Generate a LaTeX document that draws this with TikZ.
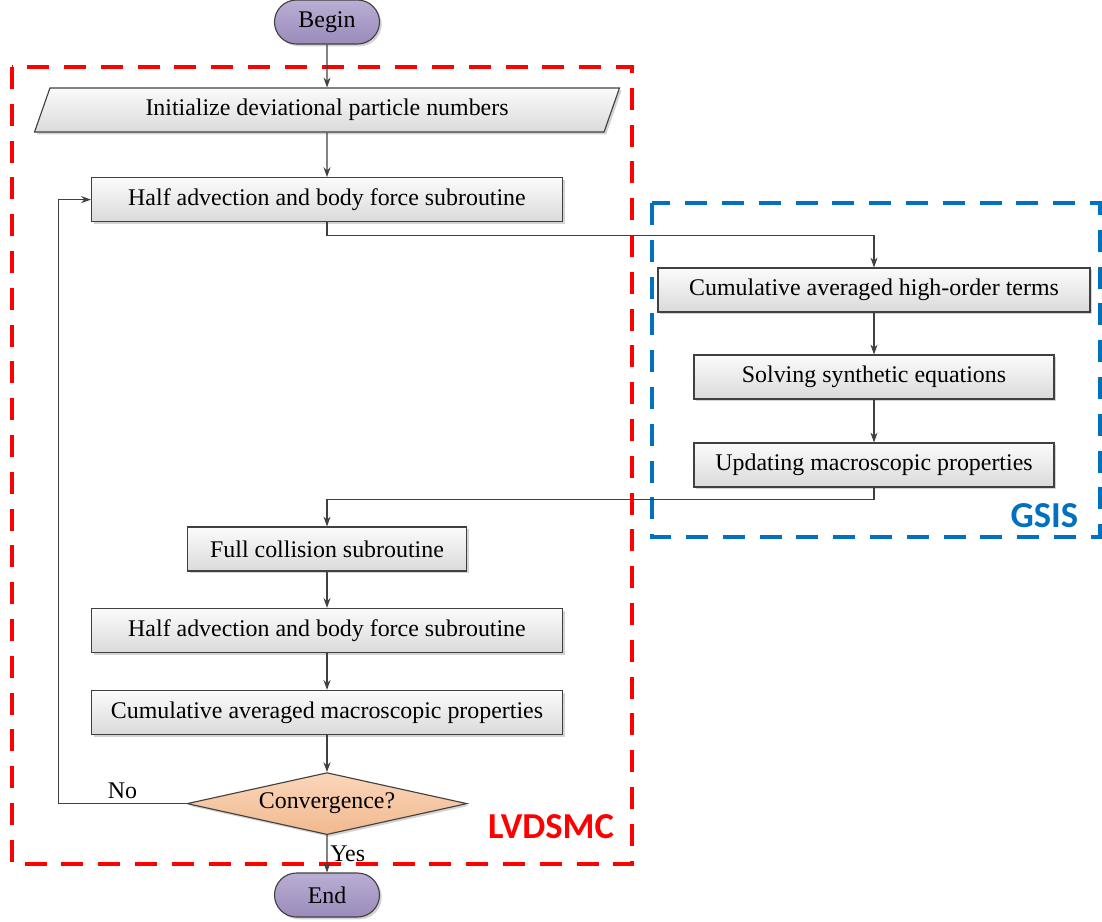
\documentclass[tikz,border=0pt]{standalone}
\usepackage{fontspec}
\setmainfont{Liberation Serif}
\newfontfamily\tagfont{Carlito}
\usepackage{xcolor}
\usepackage{tikz}
\usetikzlibrary{
  shapes.misc,
  shapes.geometric,
  arrows.meta,
  shadows
}

\definecolor{boxtop}{HTML}{FBFBFB}
\definecolor{boxbot}{HTML}{DADADA}
\definecolor{termtop}{HTML}{BAAED4}
\definecolor{termbot}{HTML}{9A8BBB}
\definecolor{dectop}{HTML}{FAD6BA}
\definecolor{decbot}{HTML}{F1B98F}
\definecolor{edge}{HTML}{404040}
\definecolor{lvred}{HTML}{FF0000}
\definecolor{gsblue}{HTML}{0070C0}

\begin{document}
\begin{tikzpicture}[%styles
          process/.style={
              draw=edge,
              line width=0.8pt,
              top color=boxtop,
              bottom color=boxbot,
              drop shadow={shadow xshift=1.6pt,shadow yshift=-1.6pt,opacity=0.35},
              minimum height=1.1cm,
              inner sep=0pt,
              font=\fontsize{17}{20}\selectfont
            },terminal/.style={
              process,
              rounded rectangle,
              top color=termtop,
              bottom color=termbot,
              minimum width=2.625cm
            },decision/.style={
              process,
              diamond,
              aspect=4.5,
              top color=dectop,
              bottom color=decbot,
              minimum width=7cm,
              minimum height=1.55cm
            },inout/.style={
              process,
              trapezium,
              trapezium left angle=65,
              trapezium right angle=115,
              trapezium stretches=true,
              minimum width=14.65cm
            },flow/.style={
              draw=edge,
              line width=0.8pt,
              -{Stealth[length=7pt,width=5pt]}
            },frame/.style={
              line width=2.2pt,
              dash pattern=on 0.55cm off 0.37cm
            },tag/.style={
              font=\tagfont\bfseries\fontsize{26}{30}\selectfont
            }
        ]

        % picture size
        \useasboundingbox (0,0) rectangle (27.55,-23.025);

        % dashed frames
        \draw[frame, lvred] (0.3,-1.675) rectangle (15.8,-21.6);
        \draw[frame, gsblue] (16.3,-5.075) rectangle (27.5,-13.425);
        \node[tag, text=lvred, anchor=east] (lvdsmc) at (15.475,-20.675) {LVDSMC};
        \node[tag, text=gsblue] (gsis) at (26.11,-12.9) {GSIS};

        % left column
        \node[terminal] (begin) at (8.175,-0.55) {Begin};
        \node[inout] (init) at (8.175,-2.75) {Initialize deviational particle numbers};
        \node[process, minimum width=11.775cm] (half1) at (8.175,-4.99) {Half advection and body force subroutine};
        \node[process, minimum width=6.975cm] (coll) at (8.175,-13.725) {Full collision subroutine};
        \node[process, minimum width=11.775cm] (half2) at (8.175,-15.76) {Half advection and body force subroutine};
        \node[process, minimum width=11.775cm] (cum) at (8.175,-17.81) {Cumulative averaged macroscopic properties};
        \node[decision] (conv) at (8.175,-20.09) {Convergence?};
        \node[terminal] (end) at (8.175,-22.375) {End};

        % right column
        \node[process, minimum width=10.8cm] (high) at (21.85,-7.25) {Cumulative averaged high-order terms};
        \node[process, minimum width=9cm] (synth) at (21.85,-9.425) {Solving synthetic equations};
        \node[process, minimum width=9cm] (update) at (21.85,-11.625) {Updating macroscopic properties};

        % connectors
        \draw[flow] (begin) -- (init);
        \draw[flow] (init) -- (half1);
        \draw[flow] (half1.south) -- ++(0,-0.33) -| (high);
        \draw[flow] (high) -- (synth);
        \draw[flow] (synth) -- (update);
        \draw[flow] (update.south) -- ++(0,-0.3) -| (coll);
        \draw[flow] (coll) -- (half2);
        \draw[flow] (half2) -- (cum);
        \draw[flow] (cum) -- (conv);
        \draw[flow] (conv.west) -- ++(-3.2,0) node[midway,above,font=\fontsize{17}{20}\selectfont]{No} |- (half1.west);
        \draw[flow] (conv) -- (end) node[midway,right,inner sep=2pt,font=\fontsize{17}{20}\selectfont]{Yes};

      \end{tikzpicture}
\end{document}
